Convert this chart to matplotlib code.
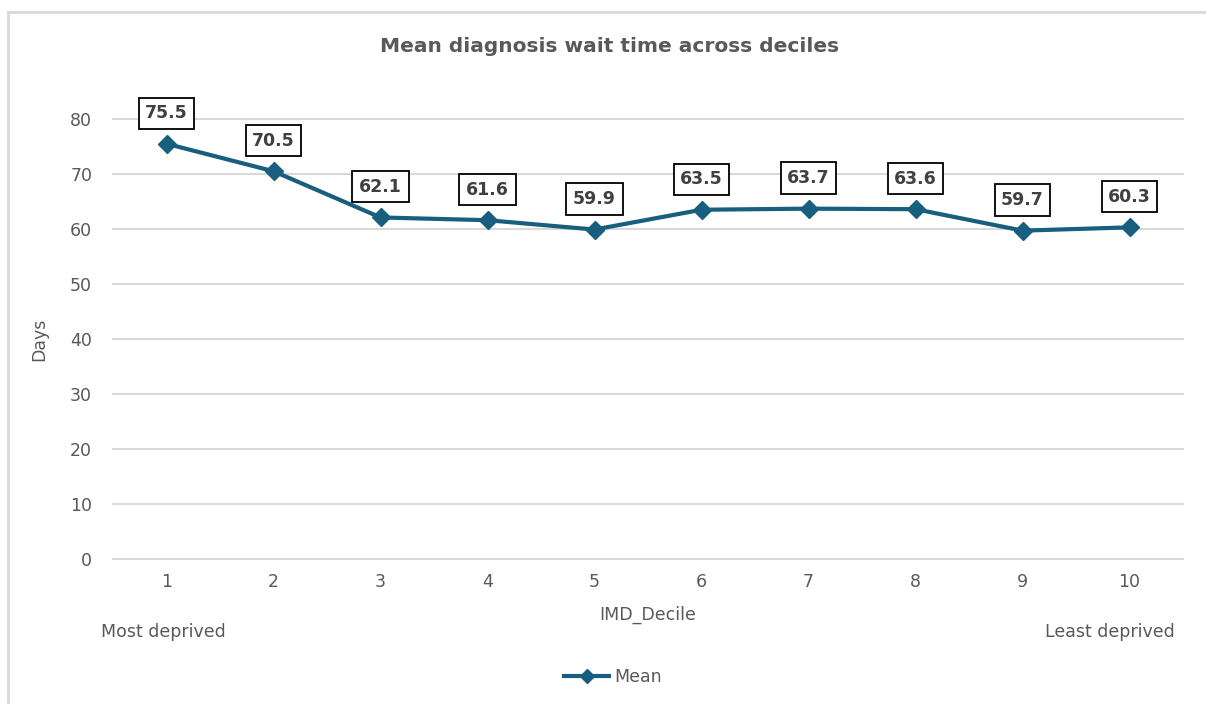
import matplotlib
matplotlib.use("Agg")
import matplotlib.pyplot as plt
from matplotlib.lines import Line2D

deciles = [1, 2, 3, 4, 5, 6, 7, 8, 9, 10]
mean_days = [75.5, 70.5, 62.1, 61.6, 59.9, 63.5, 63.7, 63.6, 59.7, 60.3]
y_ticks = [0, 10, 20, 30, 40, 50, 60, 70, 80]

plt.rcParams['font.family'] = ['DejaVu Sans']

line_color = '#175e7f'
text_color = '#595959'
fs = 12.5

fig = plt.figure(figsize=(12.06, 7.04), dpi=100)
ax = fig.add_axes([113 / 1206, 1 - 559 / 704, 1070 / 1206, 440 / 704])

ax.plot(deciles, mean_days, color=line_color, linewidth=3, marker='D',
        markersize=9, label='Mean', zorder=3, clip_on=False)

# boxed data labels above each point
for x, y in zip(deciles, mean_days):
    ax.annotate(f"{y:.1f}", (x, y), xytext=(0, 22), textcoords='offset points',
                ha='center', va='center', fontsize=12.5, fontweight='bold',
                color='#404040', annotation_clip=False,
                bbox=dict(boxstyle='square,pad=0.38', fc='white', ec='black', lw=1.3))

ax.set_xlim(0.5, 10.5)
ax.set_ylim(0, 80)
ax.set_xticks(deciles)
ax.set_yticks(y_ticks)
ax.tick_params(axis='both', length=0, labelsize=fs, labelcolor=text_color)
ax.tick_params(axis='x', pad=10)
ax.tick_params(axis='y', pad=15)
ax.grid(axis='y', color='#d9d9d9', linewidth=1.5)
for gl in ax.get_ygridlines():
    gl.set_clip_on(False)
ax.set_axisbelow(True)
for s in ax.spines.values():
    s.set_visible(False)

ax.set_ylabel('Days', fontsize=fs, color=text_color, labelpad=16)
fig.text(648 / 1206, 1 - 615 / 704, 'IMD_Decile', ha='center', va='center',
         fontsize=fs, color=text_color)
fig.text(101 / 1206, 1 - 632 / 704, 'Most deprived', ha='left', va='center',
         fontsize=fs, color=text_color)
fig.text(1175 / 1206, 1 - 632 / 704, 'Least deprived', ha='right', va='center',
         fontsize=fs, color=text_color)
fig.text(610 / 1206, 1 - 46 / 704, 'Mean diagnosis wait time across deciles',
         ha='center', va='center', fontsize=14.5, fontweight='bold', color=text_color)

handle = Line2D([], [], color=line_color, linewidth=3, marker='D', markersize=7)
fig.legend([handle], ['Mean'], loc='center', bbox_to_anchor=(613 / 1206, 1 - 677 / 704),
           frameon=False, fontsize=fs, labelcolor=text_color, handlelength=2.6,
           handletextpad=0.3)

# chart border (top and left edges visible)
fig.add_artist(Line2D([8 / 1206, 8 / 1206], [0, 1 - 12 / 704], color='#d9d9d9',
                      linewidth=2, transform=fig.transFigure))
fig.add_artist(Line2D([8 / 1206, 1], [1 - 12 / 704, 1 - 12 / 704], color='#d9d9d9',
                      linewidth=2, transform=fig.transFigure))

fig.savefig('out.png', dpi=100)
